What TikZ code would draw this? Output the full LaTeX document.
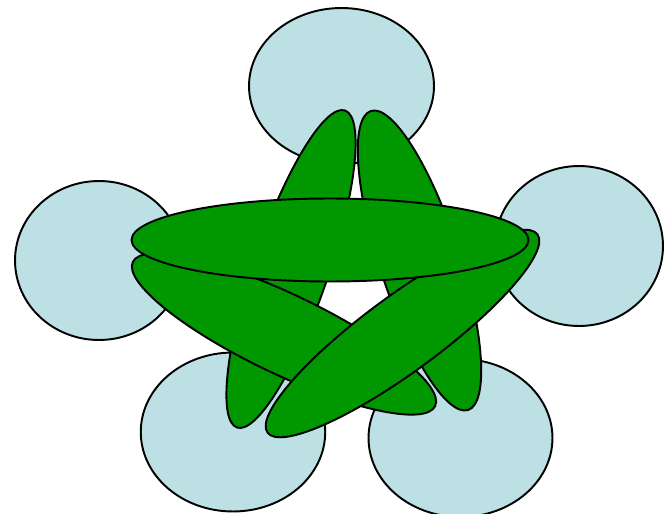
\documentclass[tikz,border=0pt]{standalone}
\usepackage{tikz}
\usetikzlibrary{shapes.geometric}
\definecolor{cceleste}{HTML}{BCE0E4}
\definecolor{cverdeo}{HTML}{009700}
\tikzset{
  circulo/.style={ellipse, draw=black, fill=cceleste, line width=1.1pt, inner sep=0pt},
  hoja/.style={ellipse, draw=black, fill=cverdeo, line width=1.1pt, inner sep=0pt,
    minimum width=6.7cm},
}
\begin{document}
\begin{tikzpicture}[x=0.02cm, y=-0.02cm]
  \useasboundingbox (0,0) rectangle (664,514);
  % circulos
  \node[circulo, minimum width=3.7cm, minimum height=3.12cm] (arriba) at (341.5,86) {};
  \node[circulo, minimum width=3.36cm, minimum height=3.18cm] (izq) at (99,260.5) {};
  \node[circulo, minimum width=3.36cm, minimum height=3.2cm] (der) at (579,246) {};
  \node[circulo, minimum width=3.69cm, minimum height=3.18cm] (abizq) at (233,432) {};
  \node[circulo, minimum width=3.68cm, minimum height=3.16cm] (abder) at (460.5,438) {};
  % hojas
  \node[hoja, minimum height=1.5cm, rotate=71.2] (h1) at (291,269) {};
  \node[hoja, minimum width=6.29cm, minimum height=1.6cm, rotate=108] (h2) at (419.5,260.5) {};
  \node[hoja, minimum height=1.6cm, rotate=-25.5] (h3) at (284,334) {};
  \node[hoja, minimum height=1.52cm, rotate=36.3] (h4) at (402.5,333.5) {};
  \node[hoja, minimum width=7.94cm, minimum height=1.66cm] (h5) at (330,240) {};
\end{tikzpicture}
\end{document}
